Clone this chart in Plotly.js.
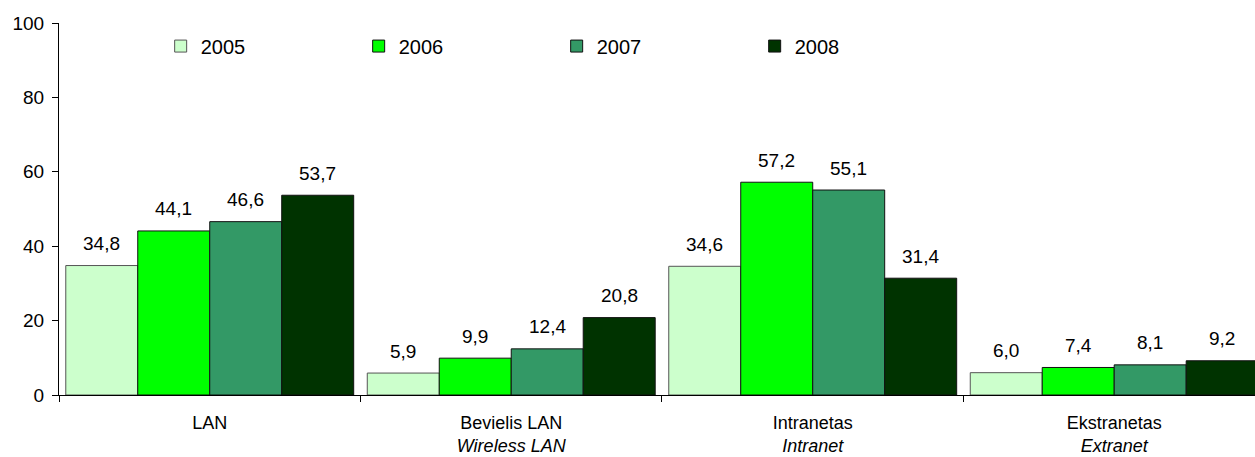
<!DOCTYPE html>
<html>
<head>
<meta charset="utf-8">
<script src="https://cdn.plot.ly/plotly-3.0.1.min.js"></script>
<style>html,body{margin:0;padding:0;background:#fff;}#chart{width:1255px;height:457px;}</style>
</head>
<body>
<div id="chart"></div>
<script>
const categories = ['LAN', 'Bevielis LAN<br><i>Wireless LAN</i>', 'Intranetas<br><i>Intranet</i>', 'Ekstranetas<br><i>Extranet</i>'];
const years = ['2005', '2006', '2007', '2008'];
const v2005 = [34.8, 5.9, 34.6, 6.0];
const v2006 = [44.1, 9.9, 57.2, 7.4];
const v2007 = [46.6, 12.4, 55.1, 8.1];
const v2008 = [53.7, 20.8, 31.4, 9.2];
const colors = ['#CCFFCC', '#00FF00', '#339966', '#003300'];
const lineColors = ['#555555', '#111111', '#111111', '#111111'];

const series = [v2005, v2006, v2007, v2008];
const traces = series.map((vals, i) => ({
  type: 'bar',
  name: years[i],
  x: categories,
  y: vals,
  marker: {color: colors[i], line: {color: lineColors[i], width: 1}},
  hoverinfo: 'none'
}));

const barPx = 72;
const annotations = [];
series.forEach((vals, i) => {
  vals.forEach((v, j) => {
    annotations.push({
      x: categories[j], y: v, xref: 'x', yref: 'y',
      text: v.toFixed(1).replace('.', ','),
      showarrow: false,
      xshift: (i - 1.5) * barPx,
      yshift: 22,
      font: {family: 'Liberation Sans, Arial, sans-serif', size: 19, color: '#000'}
    });
  });
});

const layout = {
  width: 1255, height: 457,
  margin: {l: 59, r: 0, t: 23, b: 62},
  paper_bgcolor: '#fff', plot_bgcolor: '#fff',
  barmode: 'group', bargap: 0.045, bargroupgap: 0,
  font: {family: 'Liberation Sans, Arial, sans-serif', size: 19, color: '#000'},
  showlegend: true,
  legend: {
    orientation: 'h', x: 0.085, y: 0.938, xanchor: 'left', yanchor: 'middle',
    entrywidth: 153, entrywidthmode: 'pixels',
    font: {size: 20, color: '#000'}, bgcolor: 'rgba(0,0,0,0)', traceorder: 'normal'
  },
  xaxis: {
    type: 'category', range: [-0.5, 3.467],
    showline: true, linecolor: '#000', linewidth: 1,
    ticks: 'outside', ticklen: 6, tickcolor: '#000', tickson: 'boundaries',
    ticklabelstandoff: 11,
    showgrid: false, zeroline: false,
    tickfont: {size: 18}
  },
  yaxis: {
    range: [0, 100], tickvals: [0, 20, 40, 60, 80, 100],
    showline: true, linecolor: '#000', linewidth: 1,
    ticks: 'outside', ticklen: 6, tickcolor: '#000',
    ticklabelstandoff: 4,
    showgrid: false, zeroline: false,
    tickfont: {size: 19}
  },
  annotations: annotations
};

Plotly.newPlot('chart', traces, layout, {displayModeBar: false, staticPlot: true});
</script>
</body>
</html>
